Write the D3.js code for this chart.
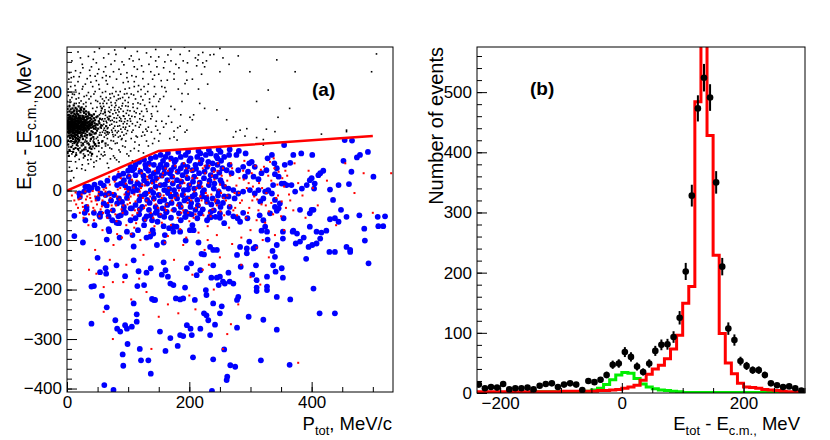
<!DOCTYPE html>
<html>
<head>
<meta charset="utf-8">
<script src="https://cdn.jsdelivr.net/npm/d3@7"></script>
<style>
body { margin: 0; background: #fff; }
text { font-family: "Liberation Sans", Arial, sans-serif; }
</style>
</head>
<body>
<script>
// ---- panel (a): E_tot - E_cm vs P_tot ----
const cutLine = [[0,0],[150,80],[500,110]];

// rejected events (black): dense core near P_tot ~ 20, E ~ 125
const blackCore = [
  [3,131],[17,118],[8,142],[25,127],[1,109],[12,155],[30,136],[6,124],[21,147],[14,103],[37,129],[4,160],[19,137],[10,115],[27,150],[2,140],[33,119],[15,126],[9,133],[23,111],
  [5,148],[18,129],[41,138],[11,121],[28,143],[0,127],[16,164],[7,113],[35,146],[20,124],[13,139],[26,117],[3,153],[31,131],[9,106],[22,158],[17,133],[44,125],[6,137],[12,145],
  [29,122],[1,118],[24,135],[15,112],[38,141],[8,128],[19,151],[4,135],[33,128],[11,160],[27,131],[2,147],[14,121],[21,140],[36,134],[7,156],[18,109],[25,144],[10,126],[46,131],
  [3,122],[16,141],[30,115],[9,149],[23,130],[5,111],[13,134],[40,120],[1,137],[19,125],[28,157],[12,116],[34,138],[6,144],[22,120],[15,150],[8,119],[26,139],[2,129],[17,145],
  [39,132],[10,138],[24,113],[4,127],[31,149],[14,130],[20,161],[7,134],[27,125],[11,143],[35,123],[3,144],[18,120],[43,140],[9,131],[25,151],[13,108],[29,133],[5,139],[21,116],
  [16,136],[1,152],[32,142],[8,123],[23,146],[12,128],[37,115],[6,129],[19,142],[28,120],[14,147],[3,116],[26,133],[10,151],[42,128],[17,124],[2,134],[22,137],[34,150],[7,140],
  [15,117],[30,127],[9,158],[20,131],[5,126],[27,145],[12,139],[38,136],[4,118],[24,128],[16,156],[11,110],[33,135],[1,142],[18,133],[29,140],[6,117],[21,126],[13,143],[45,136],
  [8,135],[25,122],[3,138],[19,147],[36,125],[10,122],[14,135],[28,130],[2,124],[23,141],[17,112],[31,124],[7,146],[12,132],[40,144],[5,133],[20,119],[26,148],[9,140],[15,129],
  [34,131],[1,131],[22,129],[11,137],[18,154],[4,149],[30,142],[13,125],[24,117],[6,132],[39,127],[16,131],[27,136],[8,145],[21,151],[3,127],[14,118],[32,121],[10,134],[19,128],
  [48,134],[25,133],[7,128],[17,139],[2,137],[29,126],[12,149],[36,139],[5,121],[23,124],[15,141],[9,125],[28,147],[20,136],[1,126],[33,145],[11,129],[18,116],[26,128],[6,151],
  [43,130],[13,136],[22,144],[4,130],[30,133],[16,121],[8,138],[24,139],[38,147],[10,118],[19,135],[3,134],[27,117],[14,153],[21,130],[35,129],[7,123],[17,127],[31,138],[12,123],
  [25,137],[2,119],[9,144],[41,134],[15,134],[28,127],[5,144],[20,145],[11,131],[34,126],[23,133],[6,139],[18,140],[13,113],[29,137],[1,135],[26,123],[16,146],[8,131],[37,132],
  [47,127],[52,140],[50,133],[55,128],[44,146],[49,121],[53,136],[46,142],[42,118],[51,125],[45,115],[40,152],[38,112],[54,145],[48,148],[36,155],[43,108],[31,160],[39,104],[28,165],
  [24,168],[19,170],[14,167],[9,166],[4,170],[7,100],[13,98],[20,102],[26,104],[32,107],[2,101],[17,96],[23,163],[11,172],[29,110],[35,158],[41,150],[6,164],[16,160],[1,165],
  [10,104],[21,107],[27,160],[33,112],[3,111],[15,106],[37,153],[25,109],[12,162],[18,104],[5,106],[31,154],[8,110],[22,166],[14,100],[40,113],[44,154],[47,116],[50,150],[56,132],
  [2,93],[7,88],[12,96],[18,84],[24,91],[30,87],[36,93],[42,89],[4,82],[10,78],[16,92],[22,77],[28,83],[34,80],[40,84],[46,94],[1,76],[14,86],[26,95],[38,77],
  [6,99],[19,99],[32,99],[44,97],[11,84],[25,81],[37,86],[48,90],[3,70],[15,72],[29,70],[41,74],[52,96],[58,100],[63,95],[66,118],[64,130],[68,145],[62,158],[57,166]
];

// rejected events (black): halo and sparse tail
const blackPoints = [
  [62,145],[70,132],[58,118],[75,155],[66,105],[81,138],[60,170],[88,124],[72,178],[57,98],[93,150],[64,188],[79,112],[98,135],[68,160],[85,168],[61,126],[103,145],[77,190],[90,105],
  [110,160],[74,142],[95,182],[59,155],[82,96],[115,138],[69,117],[100,170],[86,148],[63,200],[108,122],[78,130],[120,175],[92,160],[67,92],[125,150],[84,185],[105,195],[73,122],[97,115],
  [130,165],[89,140],[112,185],[65,176],[118,128],[80,172],[102,130],[135,185],[76,100],[94,195],[122,160],[71,150],[140,170],[87,110],[108,175],[60,140],[128,140],[99,162],[145,195],[83,152],
  [113,110],[96,128],[138,155],[70,195],[116,200],[91,176],[150,180],[78,162],[124,118],[106,150],[55,190],[133,128],[101,188],[87,200],[148,160],[64,112],[119,145],[143,210],[75,208],[128,195],
  [158,190],[92,135],[110,210],[53,205],[137,145],[84,120],[155,210],[121,190],[66,215],[100,220],[146,140],[81,225],[126,210],[162,200],[95,205],[113,230],[140,225],[58,228],[105,105],[150,235],
  [44,195],[36,185],[28,190],[19,187],[12,194],[5,183],[47,182],[39,176],[31,178],[23,181],[15,176],[8,188],[2,192],[49,168],[54,176],[35,198],[25,205],[14,203],[42,210],[6,210],
  [30,215],[18,220],[48,222],[3,225],[38,232],[22,238],[11,230],[52,245],[60,240],[70,230],[85,245],[98,238],[110,250],[125,240],[134,255],[147,250],[160,260],[118,265],[90,260],[72,255],
  [40,250],[25,255],[60,268],[80,275],[105,272],[130,278],[150,270],[170,285],[45,280],[95,288],[185,275],[200,282],[168,240],[178,255],[190,262],[210,268],[225,250],[240,275],[175,225],[195,240],
  [182,205],[205,225],[220,235],[188,180],[215,205],[230,215],[170,170],[198,195],[250,240],[265,255],
  [45,92],[31,83],[19,81],[8,74],[52,79],[40,70],[27,66],[14,58],[4,47],[56,73],[44,57],[35,54],[24,44],[11,26],[6,21],[38,89],[23,79],[15,76],[48,60],[30,41],
  [59,70],[66,55],[73,84],[81,62],[87,78],[63,90],[71,64],[79,95],[85,58],[95,88],[101,70],[111,98],[117,80],[127,112],[133,90],[143,105],[107,60],[115,108],[125,76],[131,120],
  [140,95],[148,122],[96,100],[85,82],[76,70],[68,46],[150,100],[158,128],[166,150],[155,140],[171,138],[176,164],[181,127],[186,153],[193,118],[201,148],
  [48,105],[53,112],[43,100],[35,96],[27,92],[18,90],[9,95],[3,88],[52,90],[47,124],
  [215,274],[234,274],[250,287],[299,240],[343,264],[373,240],[498,240],[506,276],[329,203],[310,180],[364,166],[345,148],[283,122],[294,125],[326,124],[457,122],[321,92],
  [207,153],[205,143],[196,122],[175,108],[180,102],[188,196],[193,216],[217,176],[225,166],[245,163],[261,143],[272,108],[214,264],[222,258],[196,223],[175,236],[164,223],
  [291,110],[310,107],[321,103],[340,119],[416,114],[457,119],[276,119]
];

const blackExtra = [
  [58,131],[63,152],[67,127],[71,141],[56,161],[61,108],[74,118],[69,168],[77,147],[54,117],[80,157],[65,137],[72,101],[57,143],[83,130],[68,183],[76,126],[62,163],[86,141],[59,176],
  [73,134],[90,118],[66,148],[79,177],[55,156],[84,108],[70,158],[94,139],[63,121],[88,165],[75,113],[58,185],[92,128],[81,146],[67,114],[97,156],[71,187],[86,131],[60,134],[99,121],
  [78,168],[64,140],[103,161],[82,117],[69,150],[91,188],[56,126],[107,135],[74,196],[95,145],[61,181],[85,159],[111,149],[77,139],[100,178],[66,125],[89,103],[115,166],[72,163],[93,112],
  [104,140],[80,200],[119,155],[87,186],[62,116],[108,168],[96,171],[123,143],[76,109],[101,152],[84,193],[127,172],[68,143],[112,131],[92,151],[116,177],[79,121],[131,160],[98,196],[106,118],
  [135,178],[88,145],[120,133],[73,172],[109,193],[139,150],[83,163],[124,183],[95,124],[113,157],[142,190],[102,207],[129,124],[90,171],[117,212],[146,170],[81,182],[132,200],[99,141],[152,185],
  [106,232],[124,226],[137,240],[92,218],[154,222],[115,245],[143,233],[160,208],[133,215],[121,204],[110,220],[98,228],[88,235],[76,240],[64,232],[50,236],[37,243],[26,248],[14,242],[4,238],
  [8,262],[22,268],[35,271],[48,258],[63,250],[78,262],[93,254],[108,262],[122,252],[145,262],[158,248],[170,262],[183,248],[197,258],[212,252],[228,262],[18,280],[53,287],[78,284],[115,281],
  [145,285],[165,274],[192,290],[222,279],[255,268],[280,272],[43,265],[68,276],[102,266],[137,270],
  [16,100],[29,98],[40,106],[51,101],[9,91],[21,86],[33,95],[45,85],[57,86],[5,80],[13,69],[27,74],[39,63],[49,69],[61,78],[35,72],[20,63],[8,40],[16,45],[25,52],
  [34,62],[44,48],[54,64],[62,72],[70,86],[78,66],[91,90],[104,80],[118,92],[130,100],[122,110],[138,118],[110,85],[98,74],[145,130],[152,115],[162,135],[175,120],[168,105],[185,130],
  [5,178],[15,185],[27,175],[39,190],[50,180],[9,195],[20,196],[32,192],[46,200],[58,198],[2,205],[13,212],[26,210],[39,219],[52,214],[64,222],[7,228],[20,230],[33,226],[46,231],
  [4,172],[12,176],[20,177],[31,170],[42,166],[55,170],[47,160],[53,153],[58,145],[60,122],[56,112],[50,108],[44,104],[38,100],[30,102],[23,97],[0,98],[0,158],[0,170],[0,180]
];

// selected events (blue)
const bluePoints = [
  [20,-6],[28,-2],[36,1],[50,4],[55,-6],[63,-9],[69,-6],[77,-9],[50,-16],[60,-26],[44,-45],[55,-46],[32,-33],[32,-39],[66,-43],[82,-26],[85,-16],[90,-23],[99,-6],[101,4],
  [82,11],[88,14],[93,21],[101,28],[104,18],[110,8],[115,1],[120,11],[126,21],[131,14],[137,28],[142,35],[148,38],[153,52],[159,45],[142,52],[134,55],[129,45],[120,38],[112,31],
  [107,41],[104,48],[112,52],[118,58],[126,62],[137,65],[145,68],[153,72],[161,68],[170,65],[178,62],[186,68],[194,72],[202,65],[213,68],[218,75],[227,72],[235,75],[246,65],[251,78],
  [257,68],[159,35],[170,41],[175,48],[186,45],[197,48],[205,41],[210,52],[218,55],[229,48],[238,55],[246,52],[254,45],[164,21],[172,28],[180,21],[189,31],[197,25],[208,28],[216,35],
  [224,25],[235,31],[243,28],[251,21],[120,-12],[129,-6],[137,1],[145,8],[153,11],[159,1],[167,4],[175,1],[183,8],[191,1],[200,11],[208,4],[216,8],[224,1],[232,11],[240,4],
  [248,-2],[257,8],[131,-19],[142,-16],[150,-9],[159,-19],[170,-12],[180,-16],[189,-9],[197,-16],[205,-12],[213,-19],[221,-12],[229,-23],[238,-16],[246,-23],[257,-12],[93,-33],[104,-36],[112,-29],
  [123,-33],[134,-39],[145,-33],[156,-36],[164,-29],[175,-39],[186,-33],[194,-43],[202,-33],[210,-39],[218,-46],[235,-43],[251,-33],[74,-60],[85,-66],[104,-60],[112,-56],[126,-70],[137,-50],[148,-63],
  [159,-53],[167,-76],[186,-60],[194,-53],[205,-70],[213,-56],[229,-60],[243,-53],[257,-66],
  [95,10],[98,-15],[108,-2],[115,15],[118,-20],[125,30],[127,-8],[133,40],[135,-25],[140,18],[141,-5],[146,25],[150,45],[152,-22],[155,30],[157,60],[160,12],[163,52],[165,-5],[168,35],
  [171,-25],[173,14],[176,58],[178,-8],[181,38],[184,-28],[187,18],[190,52],[192,-20],[195,38],[198,2],[200,60],[203,-25],[206,18],[209,-8],[211,44],[214,-30],[217,16],[220,62],[222,-3],
  [225,38],[228,-15],[231,58],[233,20],[236,-28],[239,42],[241,14],[244,70],[247,-10],[249,36],[252,60],[255,-25],[253,15],[128,52],[110,45],[100,40],[92,34],[85,30],[78,25],[72,-20],
  [66,20],[60,10],[55,15],[45,12],[40,5],[30,8],[65,-30],[75,-40],[88,-50],[96,-45],[118,-48],[130,-52],[145,-45],[162,-44],[170,-55],[183,-46],[200,-47],[222,-38],[240,-40],[250,-55],
  [165,76],[182,78],[198,79],[215,80],[232,82],[248,83],[21,-13],[35,8],[29,-45],
  [266,83],[265,72],[277,72],[281,80],[292,75],[266,52],[261,41],[269,35],[280,41],[288,48],[298,55],[302,58],[307,48],[296,38],[291,28],[305,28],[313,23],[318,35],[326,41],[328,65],
  [335,72],[339,55],[343,45],[340,33],[346,28],[351,14],[337,11],[329,1],[324,-2],[313,1],[307,-6],[299,1],[288,-2],[280,-6],[272,1],[264,-12],[264,4],[274,-16],[266,-33],[316,-22],
  [321,-16],[326,-2],[335,-6],[340,-19],[340,-33],[346,-36],[348,-26],[355,14],[359,11],[356,52],[365,56],[370,72],[383,75],[401,72],[367,11],[373,-2],[384,4],[392,11],[397,21],[400,25],
  [405,14],[404,4],[411,31],[414,35],[419,40],[400,-39],[381,-39],[435,-19],[448,-39],[452,60],[444,11],[461,13],[465,38],[474,67],[479,72],[492,78],[501,28],[454,102],[466,101],[355,92],[430,2],
  [12,-51],[30,-60],[45,-70],[53,-50],[68,-52],[84,-52],[81,-65],[54,-53],[68,-78],[69,-82],[84,-66],[93,-41],[106,-36],[119,-38],[127,-58],[139,-60],[140,-80],[147,-41],[152,-50],[163,-43],
  [158,-72],[173,-72],[179,-73],[185,-83],[193,-53],[204,-48],[207,-80],[218,-46],[233,-53],[235,-54],[250,-46],[264,-45],[272,-52],[279,-56],[283,-63],[288,-45],[295,-56],[315,-50],[321,-60],[324,-73],
  [332,-46],[354,-56],[343,-41],[353,-83],[370,-81],[376,-87],[397,-46],[403,-39],[397,-73],[408,-83],[430,-58],[438,-56],[444,-63],[457,-53],[478,-50],[486,-77],[508,-53],[517,-72],[520,-52],[509,-72],
  [98,-83],[107,-90],[116,-80],[136,-93],[141,-87],[160,-90],[174,-83],[201,-80],[318,-81],[327,-83],[369,-83],[416,-85],[424,-81],
  [12,-92],[26,-105],[65,-99],[86,-95],[109,-113],[130,-95],[147,-110],[158,-105],[194,-101],[215,-105],[220,-128],[224,-129],[234,-114],[239,-120],[245,-120],[283,-114],[294,-117],[298,-103],[305,-117],[308,-114],
  [328,-99],[336,-122],[340,-134],[343,-110],[353,-97],[374,-107],[381,-103],[387,-95],[391,-138],[395,-114],[401,-110],[408,-107],[414,-97],[429,-124],[438,-124],[463,-120],[463,-124],[487,-101],[493,-147],[457,-114],
  [50,-136],[54,-165],[63,-157],[64,-168],[81,-151],[95,-173],[109,-141],[115,-193],[117,-163],[126,-191],[130,-166],[137,-157],[142,-221],[155,-170],[158,-145],[161,-161],[165,-174],[169,-188],[174,-191],[178,-218],
  [185,-220],[190,-218],[193,-196],[196,-157],[203,-147],[209,-221],[212,-171],[218,-161],[227,-201],[228,-211],[236,-176],[239,-151],[245,-176],[248,-191],[250,-174],[255,-184],[258,-188],[264,-166],[266,-184],[272,-188],
  [278,-130],[284,-154],[294,-127],[303,-170],[309,-151],[310,-181],[327,-174],[327,-194],[337,-151],[341,-164],[351,-157],[353,-176],
  [40,-194],[44,-193],[57,-213],[65,-236],[40,-269],[79,-262],[82,-279],[87,-285],[95,-272],[98,-279],[91,-331],[92,-354],[99,-310],[106,-275],[109,-228],[114,-265],[114,-250],[119,-320],[121,-343],[133,-343],
  [137,-370],[139,-219],[144,-221],[152,-285],[161,-324],[169,-298],[181,-314],[185,-292],[190,-294],[196,-272],[204,-292],[206,-337],[202,-279],[218,-279],[224,-248],[228,-252],[231,-262],[234,-292],[239,-228],[242,-271],
  [239,-341],[250,-248],[253,-234],[257,-321],[261,-383],[262,-376],[267,-353],[275,-356],[278,-277],[278,-221],[280,-215],[297,-255],[310,-196],[310,-203],[317,-343],[321,-261],[327,-201],[343,-215],[343,-281],[364,-352],
  [365,-220],[403,-198],[413,-248],[438,-248],[237,-405],[61,-393],[76,-403]
];

// simulated events (small red)
const redPoints = [
  [12,-20],[15,-28],[18,-35],[22,-15],[25,-25],[28,-40],[31,-18],[34,-30],[37,-8],[40,-22],[43,-35],[46,-12],[49,-28],[52,-3],[55,-38],[58,-20],[21,-45],[27,-55],[36,-48],[44,-60],
  [53,-52],[8,-10],[14,-4],[30,-2],[42,-1],[60,2],
  [62,-12],[64,5],[67,-25],[70,12],[72,-40],[75,-5],[78,18],[80,-30],[83,2],[86,-18],[88,25],[91,-45],[94,-8],[96,14],[99,-28],[102,30],[104,-12],[107,-50],[109,6],[112,-22],
  [114,20],[117,-38],[119,-2],[122,35],[124,-15],[127,10],[129,-30],[132,22],[134,-5],[137,-45],[139,15],[142,-20],[144,40],[147,2],[149,-35],[66,-55],[81,-62],[97,-70],[113,-66],[128,-60],
  [143,-72],[69,28],[84,38],[100,-2],[118,44],[135,50],[105,-88],[90,-95],[120,-100],[76,-110],
  [151,12],[153,-48],[156,28],[158,-10],[161,45],[163,-28],[166,5],[168,60],[171,-40],[173,18],[176,-15],[178,38],[181,-55],[183,0],[186,22],[188,-32],[191,55],[193,-8],[196,30],[198,-45],
  [201,12],[203,-20],[206,42],[208,-2],[211,-35],[213,25],[216,60],[218,-12],[221,8],[223,-50],[226,35],[228,-25],[231,15],[233,50],[236,-8],[238,-38],[241,22],[243,-18],[246,40],[248,2],
  [251,-42],[253,30],[256,-15],[259,10],[155,-65],[170,-70],[185,-78],[200,-62],[215,-85],[230,-72],[245,-90],[160,-105],[190,-110],[225,-120],[250,-135],
  [262,20],[266,-30],[270,45],[274,-5],[278,-50],[282,25],[286,-20],[290,60],[294,5],[298,-35],[302,35],[306,-12],[310,-60],[314,15],[318,-28],[322,48],[326,-5],[330,-42],[334,20],[338,65],
  [342,-15],[346,38],[350,-52],[355,8],[265,-75],[285,-95],[300,-80],[320,-100],[340,-90],[360,30],[365,-20],[372,55],
  [385,-10],[395,40],[410,-30],[425,20],[440,-70],[455,55],[470,-5],[485,35],[500,-45],[530,35],
  [24,-8],[33,-12],[47,-20],[57,-32],[63,-2],[71,-15],[79,-48],[87,5],[92,-30],[101,-18],[106,22],[111,-40],[116,-10],[121,5],[126,-35],[131,28],[136,-12],[141,-55],[146,18],[152,-8],
  [157,35],[162,-40],[167,20],[172,-20],[177,50],[182,-10],[187,-45],[192,15],[197,-25],[202,40],[207,-55],[212,5],[217,-30],[222,45],[227,-5],[232,-45],[237,30],[242,-22],[247,55],[252,-5],
  [257,-50],[262,-10],[267,30],[272,-40],[277,10],[283,-25],[288,40],[293,-55],[297,15],[303,-20],[308,50],[313,-40],[319,5],[324,-65],[329,30],[334,-25],[339,45],[345,-10],[352,25],[358,-35],
  [36,-160],[48,-168],[60,-195],[75,-185],[92,-185],[105,-220],[118,-178],[130,-205],[138,-320],[150,-255],[165,-230],[182,-248],[200,-212],[210,-240],[222,-160],[240,-200],[255,-320],[262,-290],[268,-270],[280,-230],
  [300,-175],[316,-190],[378,-348],[60,-245],[75,-300]
];

const redExtra = [
  [19,-18],[26,-33],[38,-15],[45,-40],[51,-10],[59,-45],[68,-8],[73,-30],[82,-12],[89,-38],[95,3],[103,-25],[110,-8],[115,-45],[123,12],[130,-20],[138,5],[145,-28],[150,25],[155,-15],
  [160,-35],[165,40],[170,-5],[175,28],[180,-30],[185,10],[190,-40],[195,45],[200,-15],[205,25],[210,-48],[215,15],[220,-20],[225,50],[230,-10],[235,-52],[240,38],[245,-30],[250,12],[255,45],
  [260,-20],[268,55],[275,-35],[281,-5],[289,22],[296,-45],[304,8],[311,-18],[317,42],[325,-30],[332,58],[337,-48],[344,12],[351,-22],[357,40],[363,-8],[370,-40],[378,15],[390,-55],[402,5],
  [35,-70],[58,-80],[82,-88],[110,-75],[135,-85],[165,-92],[195,-95],[230,-100],[270,-108],[310,-115],[46,-120],[70,-140],[97,-150],[125,-130],[175,-140],[205,-170],[232,-150],[285,-150],[330,-135],[355,-80]
];

// ---- panel (b): E_tot - E_cm histogram ----
const binCenters = [-235,-225,-215,-205,-195,-185,-175,-165,-155,-145,-135,-125,-115,-105,-95,-85,-75,-65,-55,-45,
  -35,-25,-15,-5,5,15,25,35,45,55,65,75,85,95,105,115,125,135,145,155,165,175,185,195,205,215,225,235,245,255,265,275,285,295];
const dataCounts = [14,8,10,9,15,6,8,8,9,6,12,15,16,10,14,16,14,5,20,18,
  22,30,47,49,68,60,44,35,49,70,80,81,93,125,202,328,473,524,491,350,210,107,88,53,45,38,38,30,16,13,10,11,8,4];
const redHist = [2,2,2,2,2,2,2,2,2,2,2,2,2,2,3,3,3,3,3,3,
  4,4,5,6,8,10,13,21,31,40,46,57,73,96,149,177,484,610,428,229,99,50,32,16,10,9,8,6,5,4,3,2,2,2];
const greenHist = [1,1,1,1,1,1,1,1,1,1,2,2,2,2,2,2,2,2,3,5,
  8,14,22,30,34,33,24,15,10,7,5,4,3,2,1,1,1,1,1,1,1,1,1,1,1,1,1,1,1,1,1,1,1,1];

const leftXTicks = [0,200,400];
const leftYTicks = [-400,-300,-200,-100,0,100,200];
const rightXTicks = [-200,0,200];
const rightYTicks = [0,100,200,300,400,500];

function main(){
    const svg = d3.select("body").append("svg")
        .attr("width", 830)
        .attr("height", 440);

    const xL = d3.scaleLinear().domain([0,533]).range([67,393]);
    const yL = d3.scaleLinear().domain([-407,290]).range([392,47]);
    const xR = d3.scaleLinear().domain([-238,301]).range([477,805]);
    const yR = d3.scaleLinear().domain([0,575]).range([393,47]);

    const defs = svg.append("defs");
    defs.append("clipPath").attr("id","clipL").append("rect")
        .attr("x",67).attr("y",47).attr("width",326).attr("height",345);
    defs.append("clipPath").attr("id","clipR").append("rect")
        .attr("x",477).attr("y",47).attr("width",328).attr("height",346);

    // panel (a) points
    const gA = svg.append("g").attr("clip-path","url(#clipL)");

    // core drawn with slightly bigger dots so it reads as a solid blob
    gA.append("g").selectAll("rect")
        .data(blackCore)
        .join("rect")
        .attr("x", d => xL(d[0]) - 1.1)
        .attr("y", d => yL(d[1]) - 1.1)
        .attr("width", 2.2).attr("height", 2.2)
        .attr("fill", "#000");

    gA.append("g").selectAll("rect")
        .data(blackPoints.concat(blackExtra))
        .join("rect")
        .attr("x", d => xL(d[0]) - 0.8)
        .attr("y", d => yL(d[1]) - 0.8)
        .attr("width", 1.6).attr("height", 1.6)
        .attr("fill", "#000");

    gA.append("g").selectAll("circle")
        .data(bluePoints)
        .join("circle")
        .attr("cx", d => xL(d[0]))
        .attr("cy", d => yL(d[1]))
        .attr("r", 2.9)
        .attr("fill", "#0000ff");

    gA.append("g").selectAll("rect")
        .data(redPoints.concat(redExtra))
        .join("rect")
        .attr("x", d => xL(d[0]) - 1)
        .attr("y", d => yL(d[1]) - 1)
        .attr("width", 2).attr("height", 2)
        .attr("fill", "#ff0000");

    gA.append("path")
        .datum(cutLine)
        .attr("fill","none")
        .attr("stroke","#ff0000")
        .attr("stroke-width",2.5)
        .attr("d", d3.line().x(d => xL(d[0])).y(d => yL(d[1])));

    // panel (b) histograms
    const gB = svg.append("g").attr("clip-path","url(#clipR)");
    const half = (binCenters[1] - binCenters[0]) / 2;
    const steps = vals => binCenters.flatMap((c,i) => [[c - half, vals[i]], [c + half, vals[i]]]);
    const stepLine = d3.line().x(d => xR(d[0])).y(d => yR(d[1]));

    gB.append("path")
        .datum(steps(greenHist))
        .attr("fill","none").attr("stroke","#00ee00").attr("stroke-width",3)
        .attr("d", stepLine);
    gB.append("path")
        .datum(steps(redHist))
        .attr("fill","none").attr("stroke","#ff0000").attr("stroke-width",3)
        .attr("d", stepLine);

    const pts = binCenters.map((c,i) => ({x:c, y:dataCounts[i]}));
    gB.append("g").selectAll("line")
        .data(pts)
        .join("line")
        .attr("x1", d => xR(d.x)).attr("x2", d => xR(d.x))
        .attr("y1", d => yR(d.y - Math.sqrt(d.y)))
        .attr("y2", d => yR(d.y + Math.sqrt(d.y)))
        .attr("stroke","#000").attr("stroke-width",2);
    gB.append("g").selectAll("circle")
        .data(pts)
        .join("circle")
        .attr("cx", d => xR(d.x))
        .attr("cy", d => yR(d.y))
        .attr("r", 3.3)
        .attr("fill","#000");

    // axes, ROOT style: ticks inside the frame
    function axes(x, y, xTicks, yTicks, xMinorStep, yMinorStep){
        const xd = x.domain(), yd = y.domain();
        const xMinor = d3.range(Math.ceil(xd[0]/xMinorStep)*xMinorStep, xd[1], xMinorStep);
        const yMinor = d3.range(Math.ceil(yd[0]/yMinorStep)*yMinorStep, yd[1], yMinorStep);
        const bottom = y.range()[0], left = x.range()[0];

        const g1 = svg.append("g").attr("transform","translate(0," + bottom + ")")
            .call(d3.axisBottom(x).tickValues(xMinor).tickSize(-5).tickFormat(""));
        const g2 = svg.append("g").attr("transform","translate(0," + bottom + ")")
            .call(d3.axisBottom(x).tickValues(xTicks).tickSize(-10).tickPadding(4).tickFormat(d3.format("d")));
        const g3 = svg.append("g").attr("transform","translate(" + left + ",0)")
            .call(d3.axisLeft(y).tickValues(yMinor).tickSize(-5).tickFormat(""));
        const g4 = svg.append("g").attr("transform","translate(" + left + ",0)")
            .call(d3.axisLeft(y).tickValues(yTicks).tickSize(-10).tickPadding(5).tickFormat(d3.format("d")));
        [g1,g2,g3,g4].forEach(g => {
            g.select(".domain").remove();
            g.selectAll("line").attr("stroke","#000");
            g.selectAll("text").attr("font-size","17px").attr("fill","#000")
                .attr("font-family","Liberation Sans, Arial, sans-serif");
        });

        svg.append("rect")
            .attr("x", x.range()[0]).attr("y", y.range()[1])
            .attr("width", x.range()[1] - x.range()[0])
            .attr("height", y.range()[0] - y.range()[1])
            .attr("fill","none").attr("stroke","#000").attr("stroke-width",1);
    }
    axes(xL, yL, leftXTicks, leftYTicks, 50, 20);
    axes(xR, yR, rightXTicks, rightYTicks, 50, 20);

    // titles with subscripts
    function title(x, y, rotate, parts, size){
        const t = svg.append("text")
            .attr("transform","translate(" + x + "," + y + ")" + (rotate ? " rotate(-90)" : ""))
            .attr("text-anchor","end")
            .attr("font-size", size + "px");
        let shift = 0;
        parts.forEach(p => {
            const sub = p[1];
            const dy = sub ? 5 - shift : -shift;
            shift = sub ? 5 : 0;
            t.append("tspan").attr("dy", dy).attr("font-size", (sub ? size * 0.7 : size) + "px").text(p[0]);
        });
    }
    const eTitle = [["E",0],["tot",1],[" - E",0],["c.m.,",1],[" MeV",0]];
    title(31, 53, true, eTitle, 20);
    title(392, 430, false, [["P",0],["tot",1],[", MeV/c",0]], 18.5);
    title(800, 430, false, eTitle, 18.5);

    svg.append("text")
        .attr("transform","translate(443,47) rotate(-90)")
        .attr("text-anchor","end")
        .attr("font-size","20px")
        .text("Number of events");

    svg.append("text").attr("x",312).attr("y",96)
        .attr("font-size","19px").attr("font-weight","bold").text("(a)");
    svg.append("text").attr("x",530).attr("y",95)
        .attr("font-size","19px").attr("font-weight","bold").text("(b)");
}
main();
</script>
</body>
</html>
